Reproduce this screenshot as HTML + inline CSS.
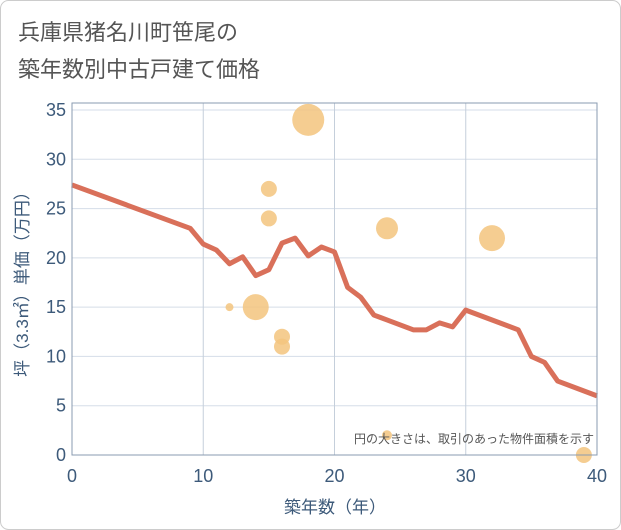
<!DOCTYPE html>
<html><head><meta charset="utf-8"><style>
body{margin:0;background:#fff;}
svg{display:block;font-family:"Liberation Sans","Noto Sans CJK JP",sans-serif;}
</style></head><body>
<svg width="621" height="530" viewBox="0 0 621 530">
<rect x="0.5" y="0.5" width="620" height="529" rx="8" fill="#fff" stroke="#ccc"/>
<text x="18" y="40" font-size="22" fill="#555">兵庫県猪名川町笹尾の</text>
<text x="18" y="77" font-size="22" fill="#555">築年数別中古戸建て価格</text>
<g id="grid"></g>
<g id="bubbles"></g>
<path id="line" fill="none" stroke="#d9705a" stroke-width="5" stroke-linejoin="round"/>
<rect x="72" y="103" width="525" height="352" fill="none" stroke="#8a9bb0"/>
<g id="ticks"></g>
<text x="335" y="513" font-size="17" fill="#3d5a7a" text-anchor="middle">築年数（年）</text>
<text transform="translate(28,280) rotate(-90)" font-size="17" fill="#3d5a7a" text-anchor="middle">坪（3.3㎡）単価（万円）</text>
<text x="594" y="443" font-size="12" fill="#555" text-anchor="end">円の大きさは、取引のあった物件面積を示す</text>
</svg>
<script>
const lineX=[0,9,10,11,12,13,14,15,16,17,18,19,20,21,22,23,24,26,27,28,29,30,34,35,36,37,40];
const lineY=[27.4,23,21.4,20.8,19.4,20.1,18.2,18.8,21.5,22,20.2,21.1,20.6,17,16,14.2,13.7,12.7,12.7,13.4,13,14.7,12.7,10,9.4,7.5,6];
const bubX=[12,14,15,15,16,16,18,24,24,32,39];
const bubY=[15,15,27,24,12,11,34,23,2,22,0];
const bubR=[4,13,8,8,8,8,16,11,5,13,8];
const xTicks=[0,10,20,30,40];
const yTicks=[0,5,10,15,20,25,30,35];
const NS="http://www.w3.org/2000/svg";
const sx=v=>72+v*525/40, sy=v=>455-v*345/35;
const grid=document.getElementById('grid'), ticks=document.getElementById('ticks');
yTicks.forEach(t=>{
 const l=document.createElementNS(NS,'line');
 
 
 l.setAttribute('x1',72);l.setAttribute('x2',597);l.setAttribute('y1',sy(t));l.setAttribute('y2',sy(t));
 l.setAttribute('stroke','#d5dde8');grid.appendChild(l);
 const tx=document.createElementNS(NS,'text');
 
 
 tx.setAttribute('x',66);tx.setAttribute('y',sy(t)+6);tx.setAttribute('text-anchor','end');
 tx.setAttribute('font-size','18');tx.setAttribute('fill','#3d5a7a');tx.textContent=t;ticks.appendChild(tx);
});
xTicks.forEach(t=>{
 const l=document.createElementNS(NS,'line');
 
 
 l.setAttribute('x1',sx(t));l.setAttribute('x2',sx(t));l.setAttribute('y1',103);l.setAttribute('y2',455);
 l.setAttribute('stroke','#c5cfdb');grid.appendChild(l);
 const tx=document.createElementNS(NS,'text');
 
 
 tx.setAttribute('x',sx(t));tx.setAttribute('y',482);tx.setAttribute('text-anchor','middle');
 tx.setAttribute('font-size','18');tx.setAttribute('fill','#3d5a7a');tx.textContent=t;ticks.appendChild(tx);
});
const bg=document.getElementById('bubbles');
bubX.forEach((x,i)=>{
 const c=document.createElementNS(NS,'circle');
 
 
 c.setAttribute('cx',sx(x));c.setAttribute('cy',sy(bubY[i]));c.setAttribute('r',bubR[i]);
 c.setAttribute('fill','#f3c47e');c.setAttribute('fill-opacity','0.85');bg.appendChild(c);
});
document.getElementById('line').setAttribute('d',lineX.map((x,i)=>(i?'L':'M')+sx(x)+','+sy(lineY[i])).join(''));
</script>
</body></html>
